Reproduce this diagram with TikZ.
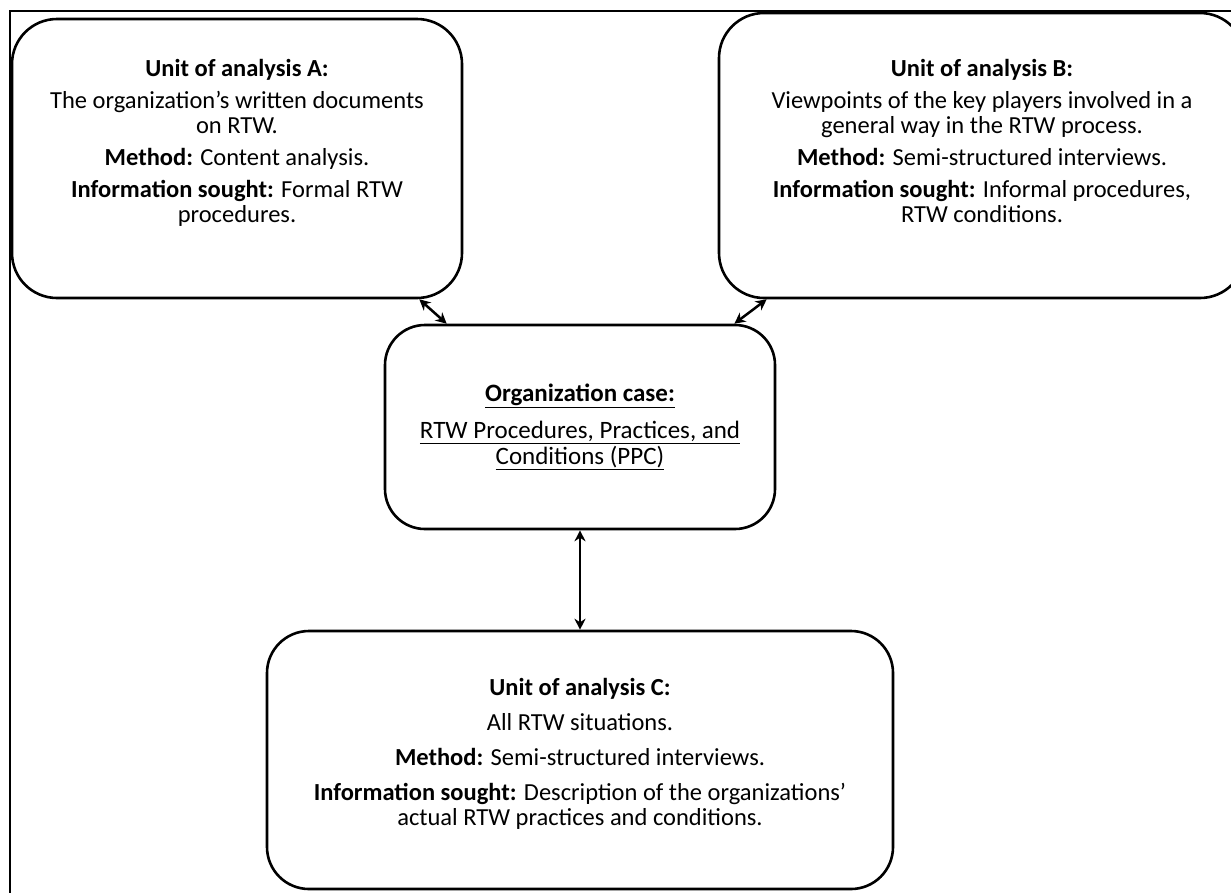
\documentclass[tikz,border=0pt]{standalone}
\usepackage{fontspec}
\setmainfont{Carlito}
\usetikzlibrary{arrows.meta}
\begin{document}
\begin{tikzpicture}[x=1pt,y=-1pt,
  box/.style={draw,line width=2.6pt,rounded corners=45pt,inner sep=0pt},
  txt/.style={inner sep=0pt,align=center,
    font={\fontsize{24.5}{25}\selectfont\lineskiplimit=-50pt\lineskip=0pt}},
  txtb/.style={inner sep=0pt,align=center,
    font={\fontsize{25}{26}\selectfont\lineskiplimit=-50pt\lineskip=0pt}},
  link/.style={line width=2.5pt,{Stealth[length=11pt,width=11pt]}-{Stealth[length=11pt,width=11pt]}},
  frame/.style={line width=1.6pt}]
\clip (0,0) rectangle (1231,892);
\fill[white] (0,0) rectangle (1231,892);
\coordinate (f1) at (10,900);
\coordinate (f2) at (10,11);
\coordinate (f3) at (1240,11);
\draw[frame] (f1) -- (f2) -- (f3);
% boxes
\node[box, minimum width=450pt, minimum height=279pt] (A) at (237,158.5) {};
\node[box, minimum width=526pt, minimum height=285pt] (B) at (982,155.5) {};
\node[box, rounded corners=40pt, minimum width=390pt, minimum height=204pt] (O) at (580,427) {};
\node[box, rounded corners=42pt, minimum width=626pt, minimum height=258pt] (C) at (580,760) {};
% texts
\node[txt] (At) at (237,143)
 {\textbf{Unit of analysis A:}\\[7pt]
  The organization’s written documents\\ on RTW.\\[7pt]
  \textbf{Method:} Content analysis.\\[7pt]
  \textbf{Information sought:} Formal RTW\\ procedures.};
\node[txt] (Bt) at (982,141)
 {\textbf{Unit of analysis B:}\\[7pt]
  Viewpoints of the key players involved in a\\ general way in the RTW process.\\[7pt]
  \textbf{Method:} Semi-structured interviews.\\[7pt]
  \textbf{Information sought:} Informal procedures,\\ RTW conditions.};
\node[txtb] (Ot) at (580,427)
 {\underline{\textbf{Organization case:}}\\[11pt]
  \underline{RTW Procedures, Practices, and}\\ \underline{Conditions (PPC)}};
\node[txt] (Ct) at (580,754)
 {\textbf{Unit of analysis C:}\\[10pt]
  All RTW situations.\\[10pt]
  \textbf{Method:} Semi-structured interviews.\\[10pt]
  \textbf{Information sought:} Description of the organizations’\\ actual RTW practices and conditions.};
% connectors
\draw[link] ([xshift=-44pt]A.south east) -- ([xshift=63pt]O.north west);
\draw[link] ([xshift=49pt]B.south west) -- ([xshift=-42pt]O.north east);
\draw[link] (O.south) -- (C.north);
\end{tikzpicture}
\end{document}
